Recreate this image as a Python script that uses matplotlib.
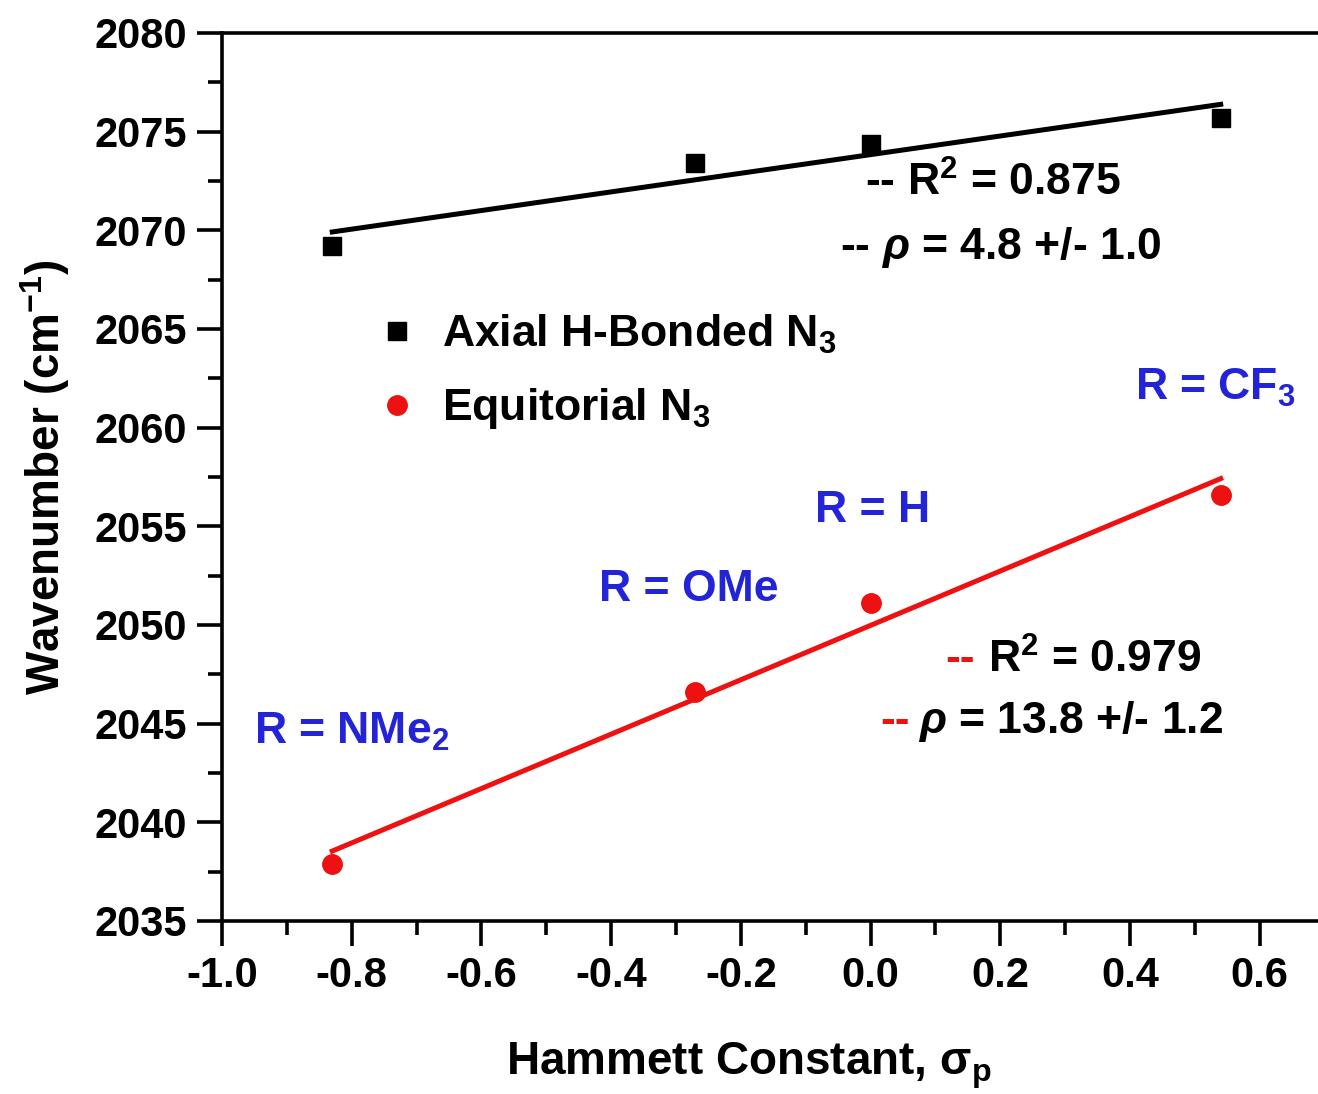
import matplotlib
matplotlib.use("Agg")
import matplotlib.pyplot as plt
import numpy as np
from matplotlib.ticker import MultipleLocator

plt.rcParams['font.family'] = ['Liberation Sans', 'DejaVu Sans']
plt.rcParams['font.weight'] = 'bold'
plt.rcParams['mathtext.fontset'] = 'custom'
plt.rcParams['mathtext.rm'] = 'Liberation Sans:bold'
plt.rcParams['mathtext.bf'] = 'Liberation Sans:bold'
plt.rcParams['mathtext.it'] = 'Liberation Sans:italic:bold'

sigma_p = [-0.83, -0.27, 0.0, 0.54]
axial = [2069.2, 2073.4, 2074.4, 2075.7]
equatorial = [2037.9, 2046.6, 2051.1, 2056.6]
substituents = ['R = NMe$_2$', 'R = OMe', 'R = H', 'R = CF$_3$']
label_x = [-0.80, -0.28, 0.003, 0.532]
label_y = [2044.6, 2051.8, 2055.8, 2062.0]

W, H = 1318, 1094
fig = plt.figure(figsize=(W / 100, H / 100), dpi=100)
ax = fig.add_axes([222 / W, 1 - 921 / H, 1 - 222 / W, (921 - 33) / H])

x = np.array(sigma_p)
for yv, col in [(axial, 'black'), (equatorial, '#ee1111')]:
    p = np.polyfit(x, np.array(yv), 1)
    xx = np.array([x.min(), x.max()])
    ax.plot(xx, np.polyval(p, xx), color=col, lw=3.6, zorder=2)

ax.plot(sigma_p, axial, 's', color='black', ms=13, ls='none', zorder=3,
        label='Axial H-Bonded N$_3$')
ax.plot(sigma_p, equatorial, 'o', color='#ee1111', ms=14, ls='none', zorder=3,
        label='Equitorial N$_3$')

blue = '#2323d8'
for s, lx, ly in zip(substituents, label_x, label_y):
    ax.text(lx, ly, s, color=blue, fontsize=32, fontweight='bold', ha='center', va='center')

ax.set_xlim(-1.0, 0.69)
ax.set_ylim(2035, 2080)
ax.xaxis.set_minor_locator(MultipleLocator(0.1))
ax.yaxis.set_major_locator(MultipleLocator(5))
ax.yaxis.set_minor_locator(MultipleLocator(2.5))
ax.set_xticks([-1.0, -0.8, -0.6, -0.4, -0.2, 0.0, 0.2, 0.4, 0.6])
ax.set_xticklabels(['-1.0', '-0.8', '-0.6', '-0.4', '-0.2', '0.0', '0.2', '0.4', '0.6'])
ax.tick_params(which='major', direction='out', length=18, width=2.6, labelsize=30, pad=7)
ax.tick_params(which='minor', direction='out', length=10, width=2.6)
for lab in ax.get_xticklabels() + ax.get_yticklabels():
    lab.set_fontweight('bold')
ax.spines['right'].set_visible(False)
for sp in ['left', 'bottom', 'top']:
    ax.spines[sp].set_linewidth(2.6)

ax.set_xlabel('Hammett Constant, $\\mathregular{\\sigma_p}$', fontsize=33, fontweight='bold', labelpad=30)
ax.xaxis.set_label_coords((749 - 222) / (W - 222), -0.135)
ax.set_ylabel('Wavenumber (cm$^{-1}$)', fontsize=33, fontweight='bold', labelpad=16)

leg = ax.legend(loc='upper left', bbox_to_anchor=(0.103, 0.73), frameon=False,
                handletextpad=0.5, labelspacing=0.68, handlelength=1.0,
                prop={'weight': 'bold', 'size': 32})

def ftext(px, py, s, color='black'):
    fig.text(px / W, 1 - py / H, s, color=color, fontsize=32, fontweight='bold', va='center', ha='left')

ftext(865, 183, '-- R$^2$ = 0.875')
ftext(840, 247, '-- $\\rho$ = 4.8 +/- 1.0')
ftext(945, 660, '--', color='#ee1111')
ftext(988, 660, 'R$^2$ = 0.979')
ftext(880, 722, '--', color='#ee1111')
ftext(918, 722, '$\\rho$ = 13.8 +/- 1.2')

fig.savefig('out.png', dpi=100)
